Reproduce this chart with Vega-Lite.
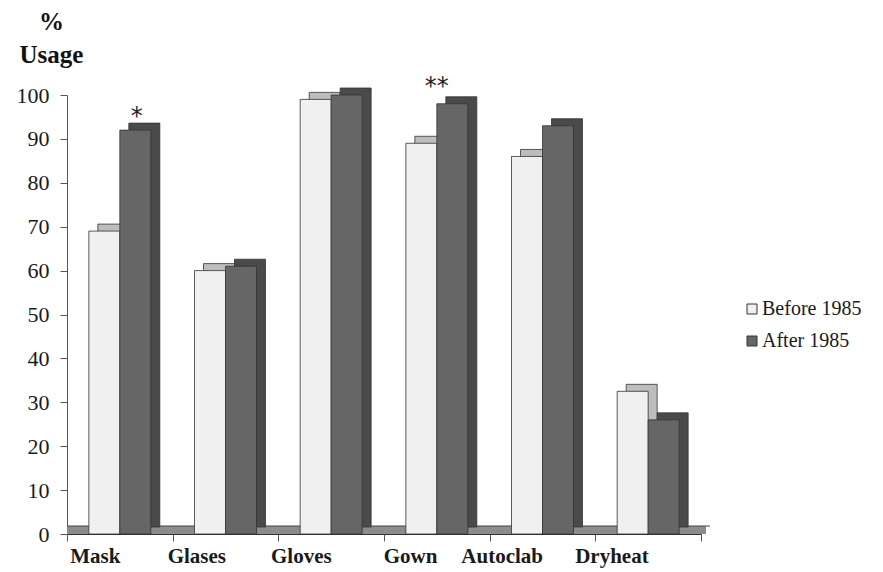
{
  "$schema": "https://vega.github.io/schema/vega-lite/v6.json",
  "width": 634,
  "height": 439,
  "autosize": {"type": "none"},
  "padding": {"left": 67, "top": 95, "right": 182, "bottom": 38},
  "background": "white",
  "config": {
    "view": {"stroke": null},
    "font": "Liberation Serif"
  },
  "datasets": {
    "usage": [
      {"item": "Mask", "period": "Before 1985", "pct": 69},
      {"item": "Mask", "period": "After 1985", "pct": 92},
      {"item": "Glases", "period": "Before 1985", "pct": 60},
      {"item": "Glases", "period": "After 1985", "pct": 61},
      {"item": "Gloves", "period": "Before 1985", "pct": 99},
      {"item": "Gloves", "period": "After 1985", "pct": 100},
      {"item": "Gown", "period": "Before 1985", "pct": 89},
      {"item": "Gown", "period": "After 1985", "pct": 98},
      {"item": "Autoclab", "period": "Before 1985", "pct": 86},
      {"item": "Autoclab", "period": "After 1985", "pct": 93},
      {"item": "Dryheat", "period": "Before 1985", "pct": 32.5},
      {"item": "Dryheat", "period": "After 1985", "pct": 26}
    ],
    "marks": [
      {"item": "Mask", "period": "After 1985", "pct": 92, "sig": "*"},
      {"item": "Gown", "period": "After 1985", "pct": 98, "sig": "**"}
    ]
  },
  "resolve": {"scale": {"xOffset": "independent"}},
  "layer": [
    {
      "data": {"values": [{"base": 0}]},
      "mark": {"type": "rule", "color": "#8c8c8c", "strokeWidth": 8, "yOffset": -4, "xOffset": 5, "x2Offset": 5},
      "encoding": {"y": {"field": "base", "type": "quantitative", "scale": {"domain": [0, 100], "nice": false}}}
    },
    {
      "data": {"values": [{"base": 0}]},
      "mark": {"type": "rule", "color": "#444", "strokeWidth": 1, "yOffset": -8, "xOffset": 9, "x2Offset": 9},
      "encoding": {"y": {"field": "base", "type": "quantitative"}}
    },
    {
      "data": {"name": "usage"},
      "mark": {"type": "bar", "yOffset": -7, "y2Offset": -7, "stroke": "#333", "strokeWidth": 0.8},
      "encoding": {
        "x": {"field": "item", "type": "nominal", "sort": null},
        "xOffset": {
          "field": "period",
          "sort": ["Before 1985", "After 1985"],
          "scale": {"paddingInner": 0, "paddingOuter": 0.705, "align": 0.706}
        },
        "y": {"field": "pct", "type": "quantitative"},
        "y2": {"datum": 0},
        "fill": {
          "condition": {"test": "datum.period === 'Before 1985'", "value": "#bdbdbd"},
          "value": "#4a4a4a"
        }
      }
    },
    {
      "data": {"name": "usage"},
      "mark": {"type": "bar", "stroke": "#333", "strokeWidth": 0.8},
      "encoding": {
        "x": {
          "field": "item",
          "type": "nominal",
          "sort": null,
          "scale": {"paddingInner": 0, "paddingOuter": 0},
          "axis": {
            "title": null,
            "labelAngle": 0,
            "labelFont": "Liberation Serif",
            "labelFontWeight": "bold",
            "labelFontSize": 21,
            "labelColor": "#1a1a1a",
            "labelPadding": 15,
            "tickBand": "extent",
            "tickSize": 7,
            "tickColor": "#555",
            "domainColor": "#333"
          }
        },
        "xOffset": {
          "field": "period",
          "sort": ["Before 1985", "After 1985"],
          "scale": {"paddingInner": 0, "paddingOuter": 0.705}
        },
        "y": {
          "field": "pct",
          "type": "quantitative",
          "scale": {"domain": [0, 100], "nice": false},
          "axis": {
            "title": ["%", "Usage"],
            "titleAngle": 0,
            "titleAlign": "center",
            "titleBaseline": "alphabetic",
            "titleX": -16,
            "titleY": -66,
            "titleFont": "Liberation Serif",
            "titleFontSize": 25,
            "titleFontWeight": "bold",
            "titleLineHeight": 33,
            "titleColor": "#111",
            "values": [0, 10, 20, 30, 40, 50, 60, 70, 80, 90, 100],
            "labelFont": "Liberation Serif",
            "labelFontSize": 22,
            "labelColor": "#1a1a1a",
            "labelPadding": 11,
            "tickSize": 7,
            "tickColor": "#555",
            "domainColor": "#555",
            "grid": false
          }
        },
        "color": {
          "field": "period",
          "type": "nominal",
          "scale": {"domain": ["Before 1985", "After 1985"], "range": ["#f0f0f0", "#666666"]},
          "legend": {
            "title": null,
            "orient": "none",
            "legendX": 675,
            "legendY": 204,
            "symbolType": "square",
            "symbolSize": 100,
            "symbolStrokeColor": "#333",
            "symbolStrokeWidth": 1,
            "labelFont": "Liberation Serif",
            "labelFontSize": 20,
            "labelColor": "#1a1a1a",
            "labelOffset": 0,
            "rowPadding": 12
          }
        }
      }
    },
    {
      "data": {"name": "marks"},
      "transform": [{"filter": "datum.item === 'Mask'"}],
      "mark": {"type": "text", "font": "DejaVu Sans", "fontSize": 24, "baseline": "alphabetic", "dy": -6, "dx": -5, "color": "#222"},
      "encoding": {
        "x": {"field": "item", "type": "nominal", "sort": null},
        "xOffset": {
          "field": "period",
          "sort": ["Before 1985", "After 1985"],
          "scale": {"domain": ["Before 1985", "After 1985"], "paddingInner": 0, "paddingOuter": 0.705}
        },
        "y": {"field": "pct", "type": "quantitative"},
        "text": {"field": "sig"}
      }
    },
    {
      "data": {"name": "marks"},
      "transform": [{"filter": "datum.item === 'Gown'"}],
      "mark": {"type": "text", "font": "DejaVu Sans", "fontSize": 24, "baseline": "alphabetic", "dy": -10, "color": "#222"},
      "encoding": {
        "x": {"field": "item", "type": "nominal", "sort": null},
        "y": {"field": "pct", "type": "quantitative"},
        "text": {"field": "sig"}
      }
    }
  ]
}
